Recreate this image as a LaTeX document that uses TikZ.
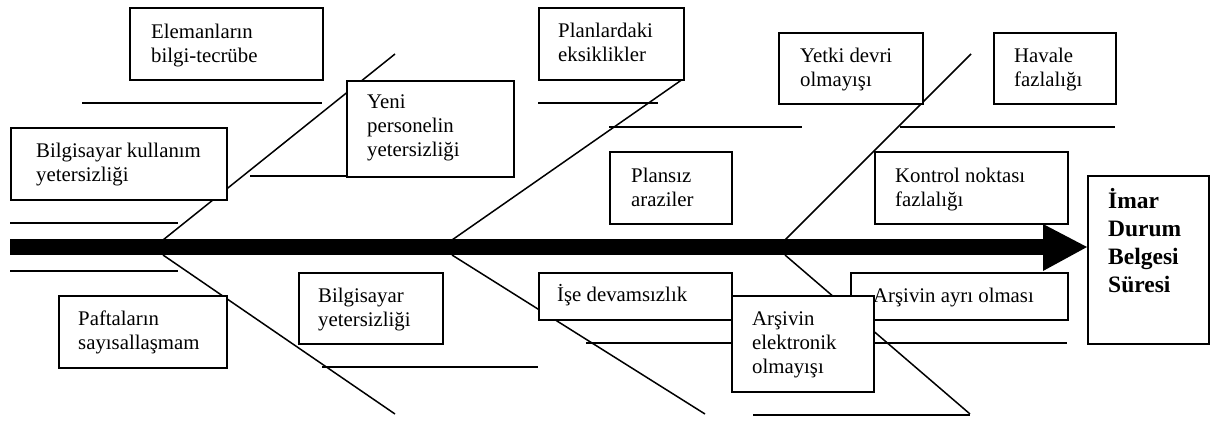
\documentclass[tikz,border=0pt]{standalone}
\usepackage{fontspec}
\setmainfont{Liberation Serif}
\newcommand\tsr{\rule{0pt}{18.5pt}}
\newcommand\tsb{\rule{0pt}{21pt}}
\tikzset{
  box/.style={draw, line width=1.8pt, fill=white, inner sep=0pt, anchor=north west},
  lbl/.style={anchor=north west, inner sep=0pt, align=left, font=\fontsize{20.8}{24}\selectfont},
  blbl/.style={anchor=north west, inner sep=0pt, align=left, font=\bfseries\fontsize{23.5}{28}\selectfont},
  bone/.style={line width=1.5pt},
  spine/.style={fill=black},
}
\begin{document}
\begin{tikzpicture}[x=1pt,y=-1pt]
\useasboundingbox (0,0) rectangle (1211,421);
% spine
\coordinate (tailtop) at (10,239);
\coordinate (tailbot) at (1043,255);
\coordinate (headtop) at (1043,224);
\coordinate (headtip) at (1087,247);
\coordinate (headbot) at (1043,271);
\fill[spine] (tailtop) rectangle (tailbot);
\fill[spine] (headtop) -- (headtip) -- (headbot) -- cycle;
% bones
\draw[bone] (82,103) -- (322,103);
\draw[bone] (250,176) -- (346,176);
\draw[bone] (10,223) -- (178,223);
\draw[bone] (10,271) -- (178,271);
\draw[bone] (395,54) -- (163,240);
\draw[bone] (163,255) -- (395,414);
\draw[bone] (322,367) -- (538,367);
\draw[bone] (538,103) -- (658,103);
\draw[bone] (609,127) -- (802,127);
\draw[bone] (683,79) -- (452,240);
\draw[bone] (452,255) -- (705,414);
\draw[bone] (586,343) -- (731,343);
\draw[bone] (971,54) -- (785,240);
\draw[bone] (900,127) -- (1115,127);
\draw[bone] (785,255) -- (970,414);
\draw[bone] (873,343) -- (1067,343);
\draw[bone] (753,415) -- (970,415);
% boxes and labels
\node[box, minimum width=193pt, minimum height=72pt] (b1) at (129,7) {};
\node[lbl] (t1) at (151,19.5) {\tsr Elemanların\\bilgi-tecrübe};
\node[box, minimum width=216pt, minimum height=72pt] (b2) at (10,127) {};
\node[lbl] (t2) at (36,138.5) {\tsr Bilgisayar kullanım\\yetersizliği};
\node[box, minimum width=167pt, minimum height=96pt] (b3) at (346,80) {};
\node[lbl] (t3) at (367,89.5) {\tsr Yeni\\personelin\\yetersizliği};
\node[box, minimum width=145pt, minimum height=72pt] (b4) at (538,7) {};
\node[lbl] (t4) at (558,18.5) {\tsr Planlardaki\\eksiklikler};
\node[box, minimum width=122pt, minimum height=72pt] (b5) at (609,151) {};
\node[lbl] (t5) at (631,163.5) {\tsr Plansız\\araziler};
\node[box, minimum width=144pt, minimum height=71pt] (b6) at (778,32) {};
\node[lbl] (t6) at (800,43.5) {\tsr Yetki devri\\olmayışı};
\node[box, minimum width=122pt, minimum height=71pt] (b7) at (993,32) {};
\node[lbl] (t7) at (1014,43.5) {\tsr Havale\\fazlalığı};
\node[box, minimum width=193pt, minimum height=72pt] (b8) at (874,151) {};
\node[lbl] (t8) at (895,163.5) {\tsr Kontrol noktası\\fazlalığı};
\node[box, minimum width=121pt, minimum height=168pt] (b9) at (1087,175) {};
\node[blbl] (t9) at (1108,187) {\tsb İmar\\Durum\\Belgesi\\Süresi};
\node[box, minimum width=168pt, minimum height=72pt] (b10) at (58,295) {};
\node[lbl] (t10) at (78,306.5) {\tsr Paftaların\\sayısallaşmam};
\node[box, minimum width=144pt, minimum height=71pt] (b11) at (298,272) {};
\node[lbl] (t11) at (318,283.5) {\tsr Bilgisayar\\yetersizliği};
\node[box, minimum width=193pt, minimum height=47pt] (b12) at (538,272) {};
\node[lbl] (t12) at (557,282.5) {\tsr İşe devamsızlık};
\node[box, minimum width=217pt, minimum height=47pt] (b13) at (850,272) {};
\node[lbl] (t13) at (873,283.5) {\tsr Arşivin ayrı olması};
\node[box, minimum width=142pt, minimum height=96pt] (b14) at (731,295) {};
\node[lbl] (t14) at (752,306.5) {\tsr Arşivin\\elektronik\\olmayışı};
\end{tikzpicture}
\end{document}
